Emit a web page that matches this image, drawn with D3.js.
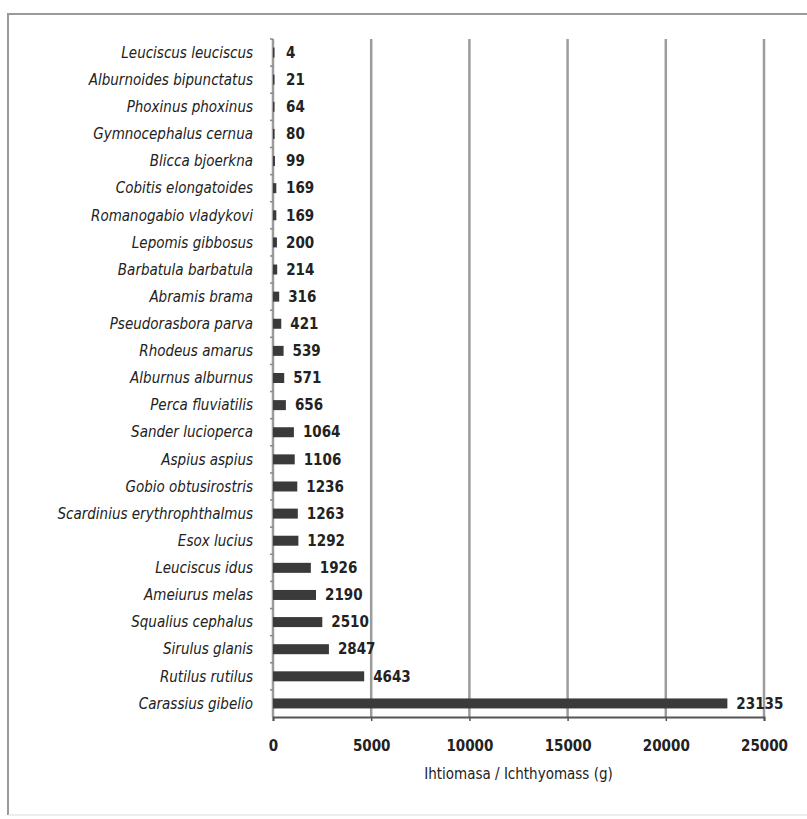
<!DOCTYPE html>
<html>
<head>
<meta charset="utf-8">
<script src="https://cdn.jsdelivr.net/npm/d3@7"></script>
<style>
  body { margin: 0; background: #fff; }
  svg text { font-family: "Liberation Sans Narrow", "DejaVu Sans Condensed", "Roboto", sans-serif; }
</style>
</head>
<body>
<svg id="chart" width="807" height="819"></svg>
<script>
// data, top to bottom
const species = [
  "Leuciscus leuciscus", "Alburnoides bipunctatus", "Phoxinus phoxinus",
  "Gymnocephalus cernua", "Blicca bjoerkna", "Cobitis elongatoides",
  "Romanogabio vladykovi", "Lepomis gibbosus", "Barbatula barbatula",
  "Abramis brama", "Pseudorasbora parva", "Rhodeus amarus",
  "Alburnus alburnus", "Perca fluviatilis", "Sander lucioperca",
  "Aspius aspius", "Gobio obtusirostris", "Scardinius erythrophthalmus",
  "Esox lucius", "Leuciscus idus", "Ameiurus melas", "Squalius cephalus",
  "Sirulus glanis", "Rutilus rutilus", "Carassius gibelio"
];
const biomass = [
  4, 21, 64, 80, 99, 169, 169, 200, 214, 316, 421, 539, 571, 656,
  1064, 1106, 1236, 1263, 1292, 1926, 2190, 2510, 2847, 4643, 23135
];
const xTicks = [0, 5000, 10000, 15000, 20000, 25000];
const xTitle = "Ihtiomasa / Ichthyomass (g)";

const svg = d3.select("#chart");
const m = { left: 273, right: 764, top: 39, bottom: 717 };

// frame
svg.append("path")
  .attr("d", "M8,815 L8,14 L807,14")
  .attr("fill", "none")
  .attr("stroke", "#9a9a9a")
  .attr("stroke-width", 2);
svg.append("line")
  .attr("x1", 8).attr("x2", 807).attr("y1", 815).attr("y2", 815)
  .attr("stroke", "#dcdcdc").attr("stroke-width", 1);

const x = d3.scaleLinear().domain([0, 25000]).range([m.left, m.right]);
const y = d3.scaleBand().domain(species).range([m.top, m.bottom]);
const mid = d => y(d) + y.bandwidth() / 2;

// gridlines
svg.selectAll("line.grid")
  .data(xTicks)
  .join("line")
  .attr("class", "grid")
  .attr("x1", d => x(d)).attr("x2", d => x(d))
  .attr("y1", m.top).attr("y2", m.bottom)
  .attr("stroke", "#9c9c9c")
  .attr("stroke-width", 2.5);

// left axis tick marks between categories
svg.selectAll("line.ytick")
  .data(species)
  .join("line")
  .attr("class", "ytick")
  .attr("x1", m.left - 3).attr("x2", m.left)
  .attr("y1", d => y(d)).attr("y2", d => y(d))
  .attr("stroke", "#888").attr("stroke-width", 1.5);

// bars
svg.selectAll("rect.bar")
  .data(species)
  .join("rect")
  .attr("class", "bar")
  .attr("x", x(0))
  .attr("y", d => mid(d) - 5)
  .attr("width", (d, i) => Math.max(x(biomass[i]) - x(0), 1.5))
  .attr("height", 10)
  .attr("fill", "#3a3a3a");

// value labels
svg.selectAll("text.val")
  .data(species)
  .join("text")
  .attr("class", "val")
  .attr("x", (d, i) => Math.max(x(biomass[i]), x(0) + 4) + 9)
  .attr("y", mid)
  .attr("dy", "0.35em")
  .attr("font-size", 15)
  .attr("font-weight", "bold")
  .attr("fill", "#222")
  .text((d, i) => biomass[i]);

// category labels
svg.selectAll("text.cat")
  .data(species)
  .join("text")
  .attr("class", "cat")
  .attr("x", 253)
  .attr("y", mid)
  .attr("dy", "0.35em")
  .attr("text-anchor", "end")
  .attr("font-size", 15)
  .attr("font-style", "italic")
  .attr("fill", "#222")
  .text(d => d);

// bottom axis
const xAxis = svg.append("g")
  .attr("transform", `translate(0,${m.bottom})`)
  .call(d3.axisBottom(x).tickValues(xTicks).tickSize(4).tickFormat(d => d));
xAxis.select(".domain").attr("stroke", "#555").attr("stroke-width", 2);
xAxis.selectAll(".tick line").attr("stroke", "#555").attr("stroke-width", 1.5);
xAxis.selectAll(".tick text")
  .attr("y", 23)
  .attr("font-size", 15)
  .attr("font-weight", "bold")
  .attr("fill", "#222")
  .attr("font-family", "Liberation Sans Narrow, DejaVu Sans Condensed, sans-serif");

svg.append("text")
  .attr("x", (m.left + m.right) / 2)
  .attr("y", 779)
  .attr("text-anchor", "middle")
  .attr("font-size", 15)
  .attr("fill", "#222")
  .text(xTitle);
</script>
</body>
</html>
